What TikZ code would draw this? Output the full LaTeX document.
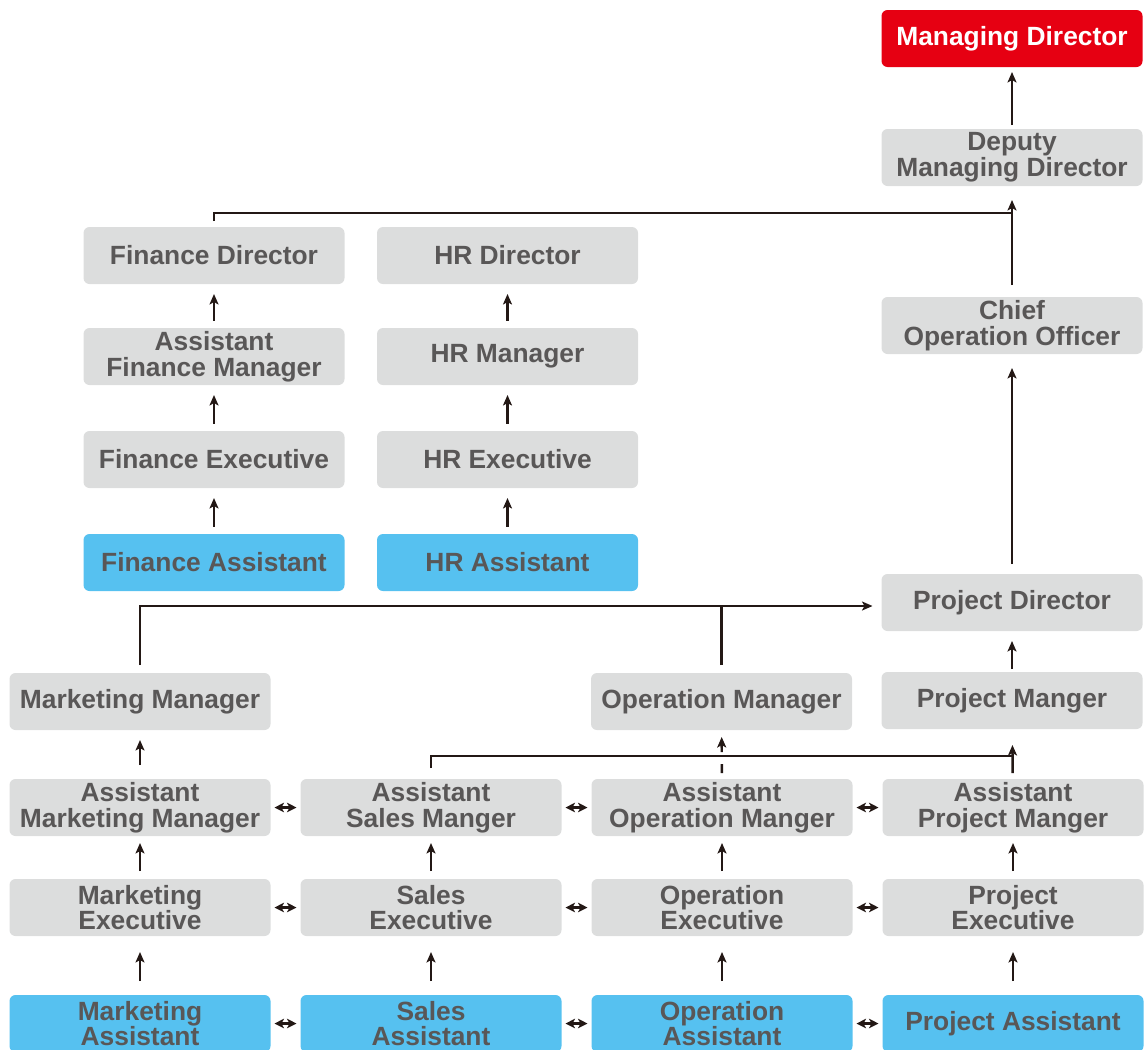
\documentclass[tikz,border=0pt]{standalone}
\usepackage{fontspec}
\setmainfont{Liberation Sans}
\usepackage{xcolor}
\usetikzlibrary{positioning,arrows.meta,calc}

\definecolor{boxgray}{RGB}{220,221,221}
\definecolor{boxblue}{RGB}{86,193,240}
\definecolor{boxred}{RGB}{230,0,18}
\definecolor{txtgray}{RGB}{89,87,87}
\definecolor{linedark}{RGB}{35,24,21}

\begin{document}
\begin{tikzpicture}[
  font=\fontsize{15}{14.7}\selectfont\bfseries,
  line width=1.4pt, color=linedark,
  role/.style={draw=none, rounded corners=0.12cm, minimum width=5.22cm, minimum height=1.14cm, inner sep=0pt, outer sep=0pt, align=center, fill=boxgray, text=txtgray},
  entrybox/.style={role, fill=boxblue},
  topbox/.style={role, fill=boxred, text=white},
  arr/.style={-{Stealth[length=2.1mm, width=1.8mm, inset=0.5mm]}, shorten <=0.15cm, shorten >=0.2cm},
  peer/.style={{Stealth[length=1.9mm, width=1.9mm, inset=0.5mm]}-{Stealth[length=1.9mm, width=1.9mm, inset=0.5mm]}, shorten <=0.08cm, shorten >=0.08cm}
]
\useasboundingbox (0,0) rectangle (22.9,-20.98);
\clip (0,0) rectangle (22.9,-20.98);

% right column
\node[topbox] (md) at (20.24,-0.77) {Managing Director};
\node[role, below=1.24cm of md] (dmd) {Deputy\\Managing Director};
\node[role, below=2.22cm of dmd] (coo) {Chief\\Operation Officer};
\node[role, below=4.4cm of coo] (pd) {Project Director};
\node[role, below=0.82cm of pd] (pm) {Project Manger};

% finance and hr
\node[role] (fd) at (4.28,-5.11) {Finance Director};
\node[role, below=0.88cm of fd] (afm) {Assistant\\Finance Manager};
\node[role, below=0.92cm of afm] (fe) {Finance Executive};
\node[entrybox, below=0.92cm of fe] (fa) {Finance Assistant};
\node[role] (hrd) at (10.15,-5.11) {HR Director};
\node[role, below=0.88cm of hrd] (hrm) {HR Manager};
\node[role, below=0.92cm of hrm] (hre) {HR Executive};
\node[entrybox, below=0.92cm of hre] (hra) {HR Assistant};

% managers
\node[role] (mm) at (2.80,-14.03) {Marketing Manager};
\node[role] (om) at (14.43,-14.03) {Operation Manager};

% bottom grid
\node[role] (amm) at (2.80,-16.15) {Assistant\\Marketing Manager};
\node[role, right=0.6cm of amm] (asm) {Assistant\\Sales Manger};
\node[role, right=0.6cm of asm] (aom) {Assistant\\Operation Manger};
\node[role, right=0.6cm of aom] (apm) {Assistant\\Project Manger};
\node[role, below=0.86cm of amm] (me) {Marketing\\Executive};
\node[role, below=0.86cm of asm] (se) {Sales\\Executive};
\node[role, below=0.86cm of aom] (oe) {Operation\\Executive};
\node[role, below=0.86cm of apm] (pe) {Project\\Executive};
\node[entrybox, below=1.18cm of me] (ma) {Marketing\\Assistant};
\node[entrybox, below=1.18cm of se] (sa) {Sales\\Assistant};
\node[entrybox, below=1.18cm of oe] (oa) {Operation\\Assistant};
\node[entrybox, below=1.18cm of pe] (pa) {Project Assistant};

% top links
\draw[arr, shorten <=0.08cm, shorten >=0.1cm] (dmd) -- (md);
\draw[arr, shorten <=0.24cm, shorten >=0.28cm] (coo) -- (dmd);
\coordinate (fbus) at ($(dmd.south)+(0,-0.54)$);
\draw ([yshift=0.12cm]fd.north) |- (fbus);
\draw[arr, shorten <=0.2cm, shorten >=0.28cm] (pd) -- (coo);
\draw[arr, shorten <=0.06cm, shorten >=0.2cm] (pm) -- (pd);

% finance / hr stacks
\draw[arr] (fa) -- (fe);
\draw[arr] (fe) -- (afm);
\draw[arr] (afm) -- (fd);
\draw[arr] (hra) -- (hre);
\draw[arr] (hre) -- (hrm);
\draw[arr] (hrm) -- (hrd);

% managers to project director
\coordinate (pbus) at ($(pd.west)+(-0.18,-0.07)$);
\draw[arr, shorten <=0cm, shorten >=0cm] ([yshift=0.16cm]mm.north) |- (pbus);
\draw ([yshift=0.16cm]om.north) -- (om.north |- pbus);

% assistant managers up
\coordinate (abus) at ($(pm.south)+(0,-0.54)$);
\draw ([yshift=0.22cm]asm.north) |- (apm.north |- abus);
\draw[arr, shorten <=0.12cm, shorten >=0.32cm] (apm) -- (pm);
\draw[arr, shorten <=0.12cm, shorten >=0.14cm, dash pattern=on 0.18cm off 0.24cm on 2cm] (aom) -- (om);
\draw[arr, shorten <=0.28cm, shorten >=0.2cm] (amm) -- (mm);

% executives up
\draw[arr, shorten <=0.16cm, shorten >=0.14cm] (me) -- (amm);
\draw[arr, shorten <=0.16cm, shorten >=0.14cm] (se) -- (asm);
\draw[arr, shorten <=0.16cm, shorten >=0.14cm] (oe) -- (aom);
\draw[arr, shorten <=0.16cm, shorten >=0.14cm] (pe) -- (apm);
\draw[arr, shorten <=0.28cm, shorten >=0.32cm] (ma) -- (me);
\draw[arr, shorten <=0.28cm, shorten >=0.32cm] (sa) -- (se);
\draw[arr, shorten <=0.28cm, shorten >=0.32cm] (oa) -- (oe);
\draw[arr, shorten <=0.28cm, shorten >=0.32cm] (pa) -- (pe);

% peers
\draw[peer] (amm) -- (asm);
\draw[peer] (asm) -- (aom);
\draw[peer] (aom) -- (apm);
\draw[peer] (me) -- (se);
\draw[peer] (se) -- (oe);
\draw[peer] (oe) -- (pe);
\draw[peer] (ma) -- (sa);
\draw[peer] (sa) -- (oa);
\draw[peer] (oa) -- (pa);
\end{tikzpicture}
\end{document}
